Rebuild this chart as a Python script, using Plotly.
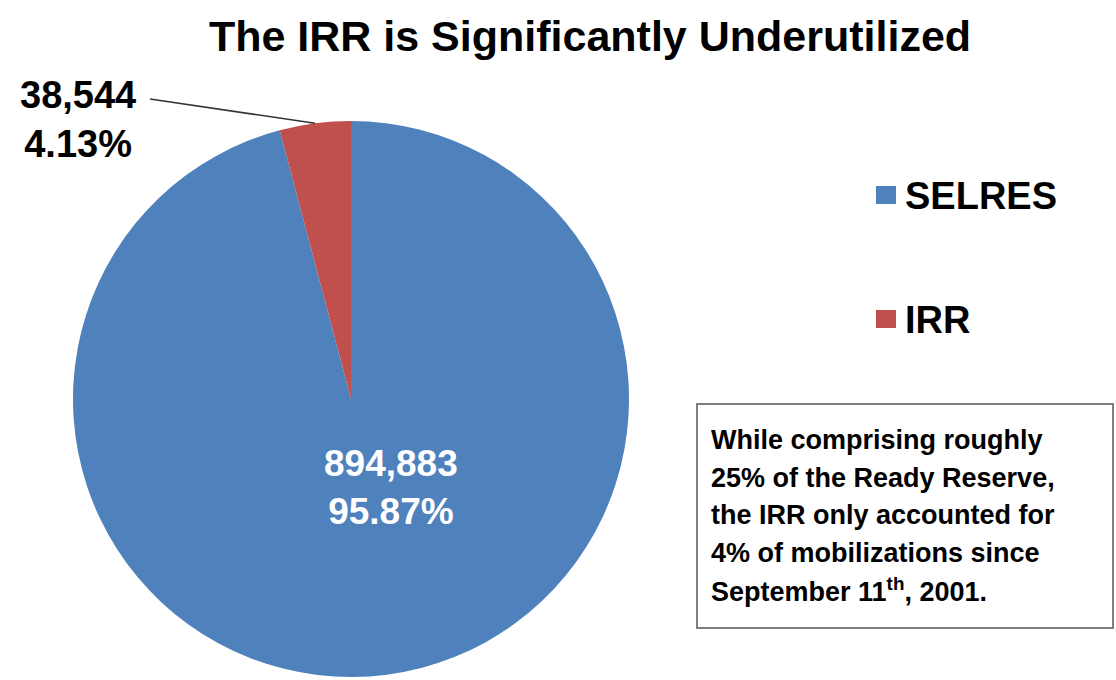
import math
import plotly.graph_objects as go

# ---- data ----
categories = ["SELRES", "IRR"]
values = [894883, 38544]
colors = ["#4F81BD", "#C0504D"]
title_text = "The IRR is Significantly Underutilized"
note_lines = [
    "While comprising roughly",
    "25% of the Ready Reserve,",
    "the IRR only accounted for",
    "4% of mobilizations since",
    "September 11<sup>th</sup>, 2001.",
]

W, H = 1116, 680
FONT = "Liberation Sans, Arial, sans-serif"

def px(x):
    return x / W

def py(y):
    return 1 - y / H

# pie geometry (pixels)
cx, cy, R = 351, 399, 278

fig = go.Figure()
fig.add_trace(go.Pie(
    labels=categories,
    values=values,
    marker=dict(colors=colors, line=dict(width=0)),
    sort=False,
    direction="clockwise",
    rotation=0,
    textinfo="none",
    hoverinfo="label+value+percent",
    showlegend=False,
    domain=dict(x=[px(cx - R), px(cx + R)], y=[py(cy + R), py(cy - R)]),
))

total = sum(values)
pcts = [v / total * 100 for v in values]

annotations = []
shapes = []

# SELRES label (inside)
annotations.append(dict(
    x=px(391), y=py(487), xref="paper", yref="paper", showarrow=False,
    xanchor="center", yanchor="middle",
    text=f"<b>{values[0]:,}<br>{pcts[0]:.2f}%</b>",
    font=dict(family=FONT, size=37, color="white"), align="center",
))

# IRR label (outside) with leader line
annotations.append(dict(
    x=px(78), y=py(119), xref="paper", yref="paper", showarrow=False,
    xanchor="center", yanchor="middle",
    text=f"<b>{values[1]:,}<br>{pcts[1]:.2f}%</b>",
    font=dict(family=FONT, size=38, color="black"), align="center",
))
# slice mid-angle point on the rim
mid_deg = 90 + (pcts[1] / 100 * 360) / 2
ex = cx + R * math.cos(math.radians(mid_deg))
ey = cy - R * math.sin(math.radians(mid_deg))
shapes.append(dict(type="line", xref="paper", yref="paper",
                   x0=px(150), y0=py(99), x1=px(ex), y1=py(ey),
                   line=dict(color="#333333", width=1.5)))

# custom legend
leg_y = [195, 319]
for i, cat in enumerate(categories):
    shapes.append(dict(type="rect", xref="paper", yref="paper",
                       x0=px(876), x1=px(896), y0=py(leg_y[i] - 9), y1=py(leg_y[i] + 9),
                       fillcolor=colors[i], line=dict(width=0)))
    annotations.append(dict(
        x=px(903), y=py(leg_y[i] + 1), xref="paper", yref="paper", showarrow=False,
        xanchor="left", yanchor="middle", text=f"<b>{cat}</b>",
        font=dict(family=FONT, size=38, color="black"),
    ))

# note box
shapes.append(dict(type="rect", xref="paper", yref="paper",
                   x0=px(697), x1=px(1113), y0=py(628), y1=py(404),
                   line=dict(color="#7f7f7f", width=2), fillcolor="white"))
for i, line in enumerate(note_lines):
    annotations.append(dict(
        x=px(709), y=py(440 + i * 37.6), xref="paper", yref="paper", showarrow=False,
        xanchor="left", yanchor="middle", text=f"<b>{line}</b>",
        font=dict(family=FONT, size=27, color="black"),
    ))

fig.update_layout(
    width=W, height=H,
    margin=dict(l=0, r=0, t=0, b=0),
    paper_bgcolor="white",
    title=dict(text=f"<b>{title_text}</b>", x=px(590), xanchor="center",
               y=py(36), yanchor="middle",
               font=dict(family=FONT, size=43, color="black")),
    shapes=shapes,
    annotations=annotations,
)

fig.write_html("out.html", config={"displayModeBar": False},
               post_script="document.body.style.margin='0px';")
